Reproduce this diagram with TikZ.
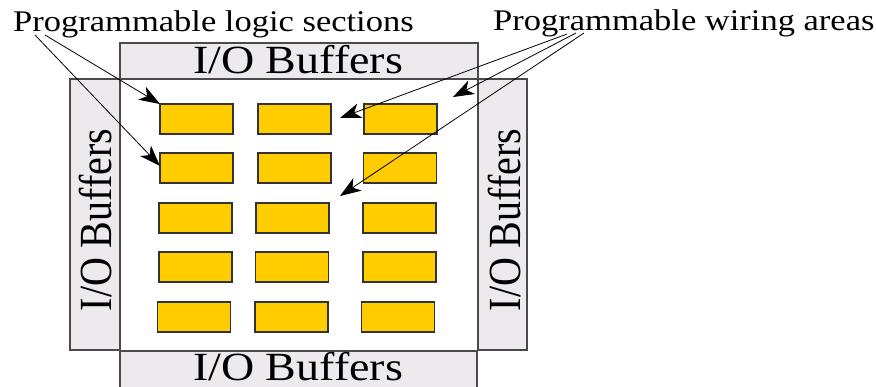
\documentclass[tikz,border=0pt]{standalone}
\usepackage{fontspec}
\setmainfont{Liberation Serif}
\newfontfamily\timesfam{Liberation Serif}
\usetikzlibrary{arrows.meta}
\definecolor{buffill}{HTML}{EDE9EC}
\definecolor{bufline}{HTML}{4A4A4A}
\definecolor{blkfill}{HTML}{FFCC00}
\definecolor{blkline}{HTML}{333333}
\tikzset{
  buf/.style={draw=bufline, fill=buffill, line width=1.3pt, rectangle, inner sep=0pt},
  blk/.style={draw=blkline, fill=blkfill, line width=1.2pt, rectangle, inner sep=0pt, minimum width=73pt, minimum height=30pt},
  buftext/.style={inner sep=0pt, font=\timesfam\fontsize{40}{48}\selectfont},
  lbl/.style={inner sep=0pt, font=\timesfam\fontsize{30}{36}\selectfont, anchor=base west},
  pointer/.style={draw=black, line width=0.8pt, -{Stealth[length=21pt,width=15pt,inset=6pt]}}
}
\begin{document}
\begin{tikzpicture}[x=1pt,y=-1pt]
\useasboundingbox (0,0) rectangle (876,386);
\clip (0,0) rectangle (876,386);
% I/O buffer boxes
\node[buf, minimum width=358pt, minimum height=36pt] (topbuf) at (299,61) {};
\node[buf, minimum width=357pt, minimum height=38pt] (botbuf) at (298.5,370) {};
\node[buf, minimum width=50pt, minimum height=271pt] (leftbuf) at (95,214.5) {};
\node[buf, minimum width=49pt, minimum height=271pt] (rightbuf) at (502.5,214.5) {};
\node[buftext, anchor=base] (toptxt) at (298,73.5) {\scalebox{1.15}[1]{I/O Buffers}};
\node[buftext, anchor=base] (bottxt) at (298,380) {\scalebox{1.15}[1]{I/O Buffers}};
\node[buftext] (lefttxt) at (96,220) {\scalebox{1.15}[1]{\rotatebox{90}{I/O Buffers}}};
\node[buftext] (righttxt) at (505,220) {\scalebox{1.15}[1]{\rotatebox{90}{I/O Buffers}}};
% logic blocks
\node[blk] (b11) at (196.5,119) {};
\node[blk] (b12) at (294.5,119) {};
\node[blk] (b13) at (400.5,119) {};
\node[blk] (b21) at (196.5,168) {};
\node[blk] (b22) at (294.5,168) {};
\node[blk] (b23) at (400,168) {};
\node[blk] (b31) at (195.5,218) {};
\node[blk] (b32) at (292.5,218) {};
\node[blk] (b33) at (399.5,218) {};
\node[blk] (b41) at (195.5,267) {};
\node[blk] (b42) at (292,267) {};
\node[blk] (b43) at (399.5,267) {};
\node[blk] (b51) at (194,317) {};
\node[blk] (b52) at (291.5,317) {};
\node[blk] (b53) at (398,317) {};
% labels
\node[lbl] (logiclbl) at (13,31.5) {\scalebox{1.15}[1]{Programmable logic sections}};
\node[lbl] (wirelbl) at (493,30.5) {\scalebox{1.15}[1]{Programmable wiring areas}};
% pointer ends
\coordinate (ls1) at (35,35);
\coordinate (ls2) at (45,35);
\coordinate (lt1) at (160,166);
\coordinate (lt2) at (160,104);
\coordinate (ws1) at (567,34);
\coordinate (ws2) at (576,33);
\coordinate (ws3) at (584,33);
\coordinate (wt1) at (340,118);
\coordinate (wt2) at (453,97);
\coordinate (wt3) at (340,196);
\draw[pointer] (ls1) -- (lt1);
\draw[pointer] (ls2) -- (lt2);
\draw[pointer] (ws1) -- (wt1);
\draw[pointer] (ws2) -- (wt2);
\draw[pointer] (ws3) -- (wt3);
\end{tikzpicture}
\end{document}
